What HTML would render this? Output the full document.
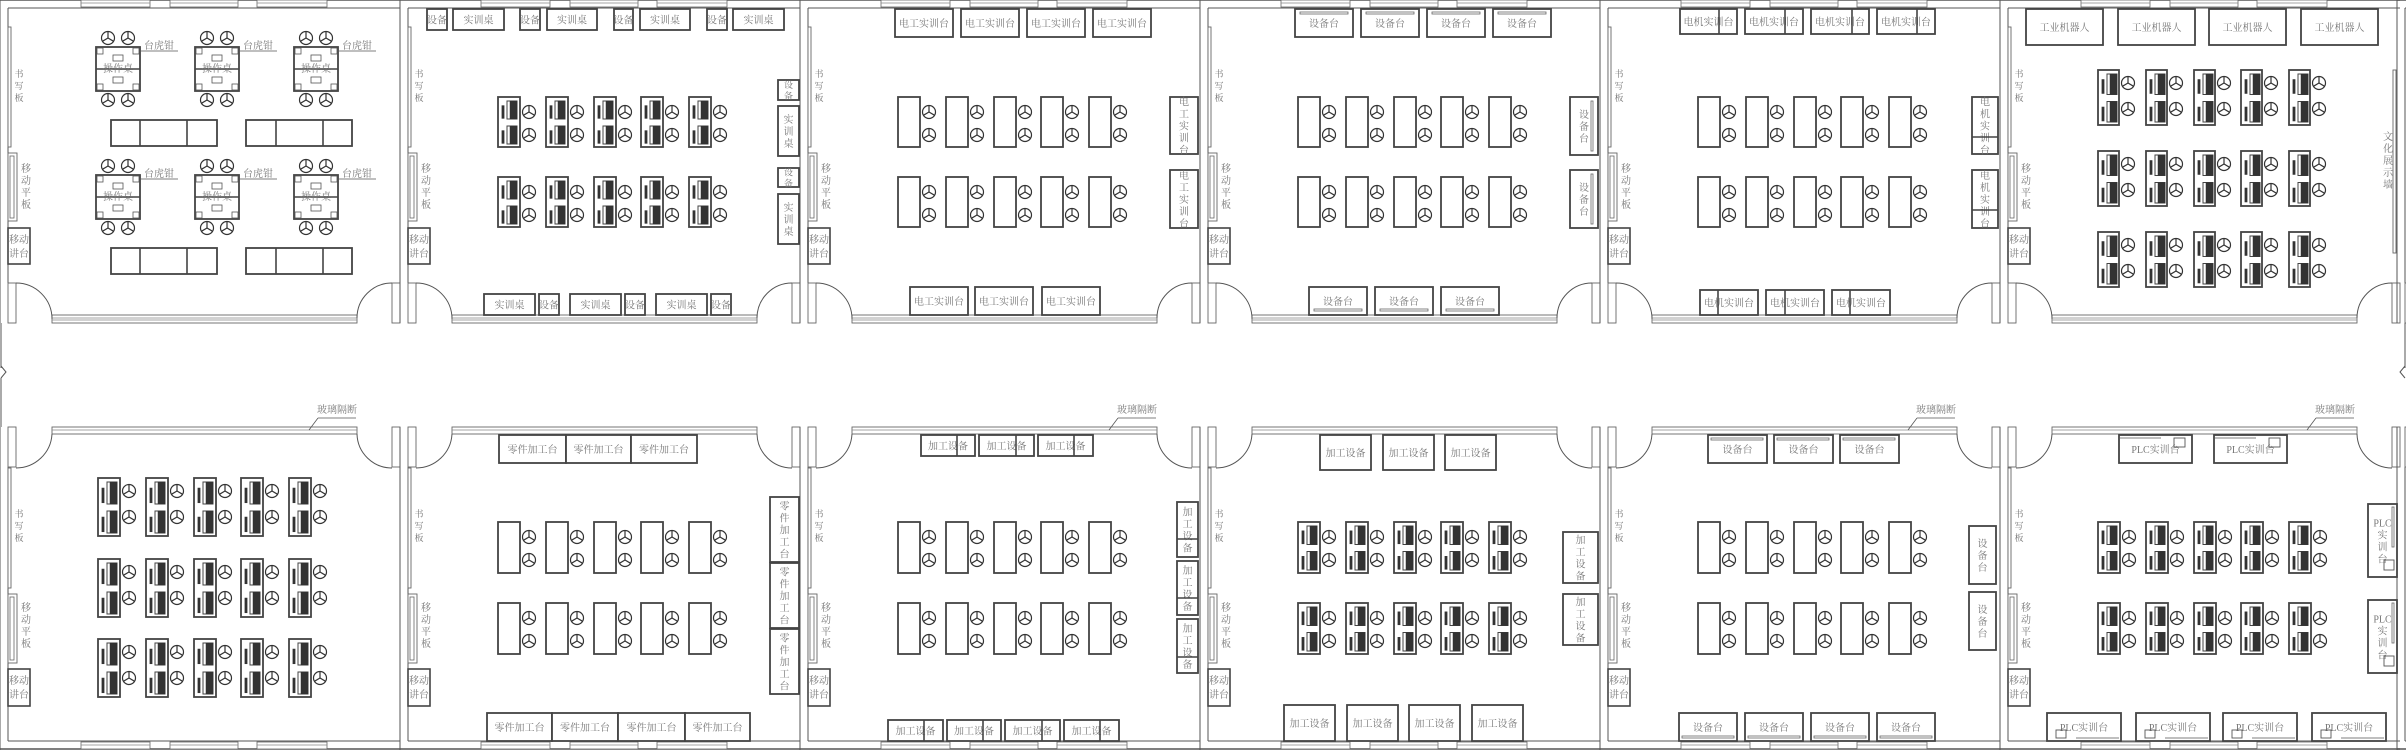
<!DOCTYPE html>
<html><head><meta charset="utf-8">
<style>
html,body{margin:0;padding:0;background:#fff;}
#c{width:2406px;height:750px;overflow:hidden;}
svg text{font-family:"Liberation Serif","Noto Serif CJK SC","Noto Sans CJK SC",serif;fill:#777;}
</style></head>
<body><div id="c"></div>
<script>
var S=[];
function R(x,y,w,h,sw,fill,st){S.push('<rect x="'+x+'" y="'+y+'" width="'+w+'" height="'+h+'" fill="'+(fill||'none')+'" stroke="'+(st||'#444')+'" stroke-width="'+(sw||1.6)+'"/>');}
function L(x1,y1,x2,y2,sw,st){S.push('<line x1="'+x1+'" y1="'+y1+'" x2="'+x2+'" y2="'+y2+'" stroke="'+(st||'#555')+'" stroke-width="'+(sw||1)+'"/>');}
function P(d,sw){S.push('<path d="'+d+'" fill="none" stroke="#555" stroke-width="'+(sw||1)+'"/>');}
function T(x,y,s,fs,anc){S.push('<text x="'+x+'" y="'+y+'" font-size="'+(fs||10)+'" text-anchor="'+(anc||'middle')+'">'+s+'</text>');}
function V(x,y,s,fs,lh){fs=fs||10;lh=lh||12;for(var i=0;i<s.length;i++)T(x,y+i*lh,s[i],fs);}
function box(x,y,w,h,s,vert,fs){R(x,y,w,h,1.8,'#fff');fs=fs||10;
 if(vert){var lh=fs+2;var n=s.length;var sy=y+h/2-(n-1)*lh/2+fs*0.38;V(x+w/2,sy,s,fs,lh);}
 else T(x+w/2,y+h/2+fs*0.38,s,fs);}
function chair(cx,cy,r){r=r||6.5;S.push('<circle cx="'+cx+'" cy="'+cy+'" r="'+r+'" fill="#fff" stroke="#333" stroke-width="1.2"/>');
 var a=[-90,30,150];for(var i=0;i<3;i++){var t=a[i]*Math.PI/180;L(cx,cy,(cx+r*Math.cos(t)).toFixed(1),(cy+r*Math.sin(t)).toFixed(1),1.2,'#333');}}
function cdesk(x,y,w,h){R(x,y,w,h,1.8,'#fff');var hh=h/2;
 for(var k=0;k<2;k++){var yy=y+k*hh;R(x+4,yy+hh*0.35,2,hh*0.5,0.8,'#333','#333');R(x+9,yy+4,10,hh-7,1,'#fff');R(x+12,yy+4,7,hh-7,0.5,'#333','#333');}}
function pdesk(x,y,w,h){R(x,y,w,h,1.8,'#fff');}
function frame(ox,top,last){
 if(top){
  L(ox,0,ox+400,0,1.5);L(ox+8,8,ox+400,8);
  L(ox,0,ox,323);L(ox+8,8,ox+8,283);
  if(last){L(ox+397,8,ox+397,323);L(ox+405,0,ox+405,323);}
  [[81,150],[170,238],[257,327]].forEach(function(w){R(ox+w[0],0,w[1]-w[0],7,0.8,'#fff','#666');L(ox+w[0],3,ox+w[1],3,0.8,'#888');});
  R(ox+52,315,305,8,0.9,'#fff','#666');L(ox+52,318,ox+357,318,0.7,'#888');L(ox+52,320,ox+357,320,0.7,'#888');
  R(ox+8,283,8,40,0.9,'#fff','#666');
  var rx=last?ox+389:ox+392;R(rx,283,8,40,0.9,'#fff','#666');
  P('M'+(ox+16)+' 283 A36 36 0 0 1 '+(ox+52)+' 319');P('M'+rx+' 283 A35 35 0 0 0 '+(rx-35)+' 318');
 }else{
  L(ox,427,ox,750);L(ox+8,467,ox+8,741);L(ox+8,741,ox+400,741);L(ox,749,ox+400,749,1.5);
  if(last){L(ox+397,434,ox+397,741);L(ox+405,427,ox+405,750);}
  [[81,150],[170,238],[257,327]].forEach(function(w){R(ox+w[0],742,w[1]-w[0],7,0.8,'#fff','#666');L(ox+w[0],745,ox+w[1],745,0.8,'#888');});
  R(ox+52,427,305,7,0.9,'#fff','#666');L(ox+52,430,ox+357,430,0.7,'#888');
  R(ox+8,427,8,40,0.9,'#fff','#666');
  var rx=last?ox+389:ox+392;R(rx,427,8,40,0.9,'#fff','#666');
  P('M'+(ox+52)+' 434 A36 36 0 0 1 '+(ox+16)+' 468');P('M'+(rx-35)+' 434 A35 35 0 0 0 '+rx+' 468');
 }
}
function side(ox,top){
 var a=top?[27,147,77,153,221,172,228,264]:[468,588,517,594,663,611,669,706];
 R(ox+8,a[0],3,a[1]-a[0],0.9,'#fff','#666');V(ox+19,a[2],'书写板',9,12);
 R(ox+8,a[3],9,a[4]-a[3],0.9,'#fff','#666');R(ox+10,a[3]+3,4,a[4]-a[3]-6,0.8,'none','#666');V(ox+26,a[5],'移动平板',10,12);
 R(ox+8,a[6],22,a[7]-a[6],1.6,'#fff');T(ox+19,a[6]+15,'移动',10);T(ox+19,a[6]+29,'讲台',10);
}
function glass(x){T(x+19,413,'玻璃隔断',10);L(x,418,x+38,418,0.8);L(x,418,x-9,430,0.8);}
var COLS=[98,146,194,241,289];
function grid(ox,rows,h,comp,w){w=w||22;rows.forEach(function(y){COLS.forEach(function(c){var x=ox+c;if(comp)cdesk(x,y,w,h);else pdesk(x,y,w,h);var d=(h>52)?[13,39]:[15,38];chair(x+w+9,y+d[0]);chair(x+w+9,y+d[1]);});});}

for(var i=0;i<6;i++){frame(i*400,true,false);frame(i*400,false,false);side(i*400,true);side(i*400,false);}
frame(2397,true,true);frame(2397,false,true);
L(1,323,1,368);P('M1 366 L6 372 L1 378');L(1,378,1,427);
L(2405,323,2405,368);P('M2405 366 L2400 372 L2405 378');

[96,195,294].forEach(function(gx){[47,175].forEach(function(gy){
 R(gx,gy,44,44,1.8,'#fff');L(gx,gy+22,gx+44,gy+22,1.6,'#444');
 [[1,1],[37,1],[1,37],[37,37]].forEach(function(p){R(gx+p[0],gy+p[1],6,6,0.8,'none','#555');});
 R(gx+17,gy+8,10,6,0.8,'none','#555');R(gx+17,gy+30,10,6,0.8,'none','#555');
 T(gx+22,gy+25,'操作桌',10);
 chair(gx+12,gy-9);chair(gx+32,gy-9);chair(gx+12,gy+53);chair(gx+32,gy+53);
 L(gx+44,gy+4,gx+82,gy+4,0.8);T(gx+63,gy+2,'台虎钳',10);
});});
[120,248].forEach(function(y){[[111,140,187,217],[246,276,323,352]].forEach(function(b){R(b[0],y,b[3]-b[0],26,1.8,'#fff');L(b[1],y,b[1],y+26,1.6,'#444');L(b[2],y,b[2],y+26,1.6,'#444');});});
grid(0,[478,559,639],58,true,22);
glass(318);

[[427,447,453,504],[520,540,547,597],[614,633,640,690],[707,727,733,784]].forEach(function(b){box(b[0],9,b[1]-b[0],21,'设备',false,10);box(b[2],9,b[3]-b[2],21,'实训桌',false,10);});
box(778,80,21,20,'设备',true,9);box(778,106,21,50,'实训桌',true,10);box(778,168,21,19,'设备',true,9);box(778,194,21,50,'实训桌',true,10);
[[484,535,539,559],[570,621,625,645],[656,707,711,731]].forEach(function(b){box(b[0],294,b[1]-b[0],21,'实训桌');box(b[2],294,b[3]-b[2],21,'设备');});
grid(400,[97,177],50,true);
[499,566,631].forEach(function(x,i){var e=[566,631,697][i];box(x,435,e-x,28,'零件加工台');});
[497,563,629].forEach(function(y){box(770,y,29,65,'零件加工台',true,10);});
[[487,552],[552,618],[618,685],[685,750]].forEach(function(b){box(b[0],713,b[1]-b[0],28,'零件加工台');});
grid(400,[522,603],51,false);

[895,961,1027,1093].forEach(function(x){box(x,9,58,28,'电工实训台');});
box(1170,97,28,57,'电工实训台',true,10);box(1170,170,28,58,'电工实训台',true,10);
[910,975,1042].forEach(function(x){box(x,287,58,28,'电工实训台');});
grid(800,[97,177],50,false);
[[921,957,975],[979,1016,1034],[1038,1074,1093]].forEach(function(b){box(b[0],435,b[2]-b[0],21,'加工设备');L(b[1],435,b[1],456,1.6,'#444');});
[[502,539,557],[561,598,615],[619,657,673]].forEach(function(b){box(1177,b[0],21,b[2]-b[0],'加工设备',true,10);L(1177,b[1],1198,b[1],1.6,'#444');});
[[888,924,943],[947,983,1001],[1005,1042,1060],[1064,1100,1119]].forEach(function(b){box(b[0],720,b[2]-b[0],21,'加工设备');L(b[1],720,b[1],741,1.6,'#444');});
grid(800,[522,603],51,false);
glass(1118);

[1295,1361,1427,1493].forEach(function(x){box(x,9,58,28,'设备台');R(x+5,12,48,2,0.8,'none','#666');});
[97,170].forEach(function(y){box(1570,y,28,58,'设备台',true,10);R(1591,y+4,2,50,0.8,'none','#666');});
[1309,1375,1441].forEach(function(x){box(x,287,58,28,'设备台');R(x+5,309,48,2,0.8,'none','#666');});
grid(1200,[97,177],50,false);
[1320,1383,1445].forEach(function(x){box(x,435,51,35,'加工设备');});
[532,594].forEach(function(y){box(1563,y,35,51,'加工设备',true,10);});
[1284,1347,1409,1472].forEach(function(x){box(x,705,51,36,'加工设备');});
grid(1200,[522,603],51,true);

[[1680,1719,1737],[1745,1785,1803],[1811,1852,1869],[1877,1917,1935]].forEach(function(b){box(b[0],9,b[2]-b[0],25,'电机实训台',false,10);L(b[1],9,b[1],34,1.6,'#444');});
[[97,137,154],[170,210,228]].forEach(function(b){box(1972,b[0],26,b[2]-b[0],'电机实训台',true,10);L(1972,b[1],1998,b[1],1.6,'#444');});
[[1700,1718,1758],[1766,1785,1824],[1832,1850,1890]].forEach(function(b){box(b[0],290,b[2]-b[0],25,'电机实训台',false,10);L(b[1],290,b[1],315,1.6,'#444');});
grid(1600,[97,177],50,false);
[1708,1774,1840].forEach(function(x){box(x,435,59,28,'设备台');R(x+3,438,52,2,0.8,'none','#666');});
[526,592].forEach(function(y){box(1969,y,27,58,'设备台',true,10);});
[1679,1745,1811,1877].forEach(function(x){box(x,713,58,28,'设备台');R(x+3,736,52,2,0.8,'none','#666');});
grid(1600,[522,603],51,false);
glass(1917);

[2026,2118,2209,2301].forEach(function(x){box(x,9,77,36,'工业机器人');});
R(2393,70,3,183,0.9,'#fff','#666');V(2388,140,'文化展示墙',10,12);
grid(2000,[70,151,232],55,true,21);
[2119,2214].forEach(function(x){box(x,435,73,28,'PLC实训台');L(x+1,438,x+42,438,0.8);R(x+55,438,11,9,0.9,'none','#555');});
[504,600].forEach(function(y){box(2368,y,29,73,['PLC','实','训','台'],true,10);R(2392,y+3,2,40,0.8,'none','#666');R(2384,y+56,10,10,0.9,'none','#555');});
[2047,2136,2223,2312].forEach(function(x){box(x,713,74,28,'PLC实训台');R(x+9,730,10,8,0.9,'none','#555');L(x+29,738,x+72,738,0.8);});
grid(2000,[522,603],51,true);
glass(2316);

document.getElementById('c').innerHTML='<svg xmlns="http://www.w3.org/2000/svg" width="2406" height="750" viewBox="0 0 2406 750">'+S.join('')+'</svg>';
</script>
</body></html>
